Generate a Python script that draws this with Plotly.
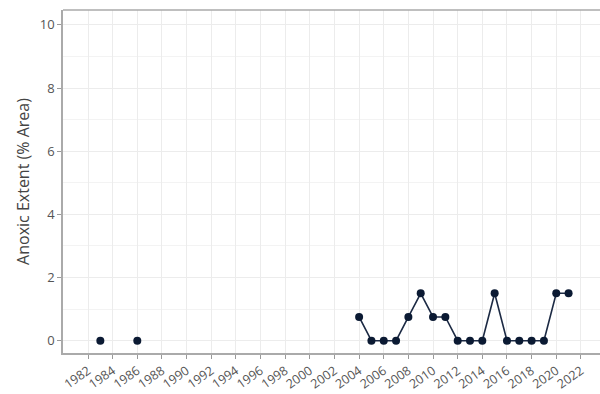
import plotly.graph_objects as go

years = [1983, 1986, 2004, 2005, 2006, 2007, 2008, 2009, 2010, 2011, 2012, 2013,
         2014, 2015, 2016, 2017, 2018, 2019, 2020, 2021]
anoxic = [0, 0, 0.75, 0, 0, 0, 0.75, 1.5, 0.75, 0.75, 0, 0,
          0, 1.5, 0, 0, 0, 0, 1.5, 1.5]
tick_years = list(range(1982, 2023, 2))
y_ticks = [0, 2, 4, 6, 8, 10]

# break the line where years are not consecutive
xs, ys = [], []
for i, (x, y) in enumerate(zip(years, anoxic)):
    if i > 0 and x - years[i - 1] > 1:
        xs.append(None)
        ys.append(None)
    xs.append(x)
    ys.append(y)

navy = "#0b1a33"
fig = go.Figure()
fig.add_trace(go.Scatter(
    x=xs, y=ys, mode="lines+markers", connectgaps=False,
    line=dict(color="#1c2a44", width=1.6),
    marker=dict(color=navy, size=8),
    showlegend=False,
))

font_family = "'Open Sans', Lato, sans-serif"
fig.update_layout(
    width=600, height=394,
    margin=dict(l=63, r=0, t=10, b=41, autoexpand=False),
    paper_bgcolor="white", plot_bgcolor="white",
    font=dict(family=font_family, color="#555555"),
    xaxis=dict(
        range=[1979.97, 2023.55], automargin=False,
        tickmode="array", tickvals=tick_years, ticktext=[str(t) for t in tick_years],
        tickangle=-35, tickfont=dict(size=12.5, color="#555555"),
        ticks="outside", ticklen=4, tickcolor="#999999",
        showline=True, linecolor="#aaaaaa", linewidth=1.5,
        showgrid=True, gridcolor="#ececec", gridwidth=1,
        zeroline=False,
    ),
    yaxis=dict(
        range=[-0.39, 10.47], automargin=False,
        tickmode="array", tickvals=y_ticks,
        tickfont=dict(size=13, color="#555555"),
        ticks="outside", ticklen=4, tickcolor="#999999",
        showline=True, linecolor="#aaaaaa", linewidth=1.5,
        showgrid=True, gridcolor="#ececec", gridwidth=1,
        minor=dict(dtick=1, tick0=0, showgrid=True, gridcolor="#f3f3f3", gridwidth=1),
        zeroline=False,
        title=dict(text="Anoxic Extent (% Area)", font=dict(size=16, color="#444444"), standoff=6),
    ),
    shapes=[dict(type="line", xref="paper", yref="paper", x0=0, x1=1, y0=1, y1=1,
                 line=dict(color="#aaaaaa", width=1.5))],
)

fig.write_html(
    "out.html",
    config={"displayModeBar": False},
    post_script="document.body.style.margin='0';document.body.style.overflow='hidden';",
)
